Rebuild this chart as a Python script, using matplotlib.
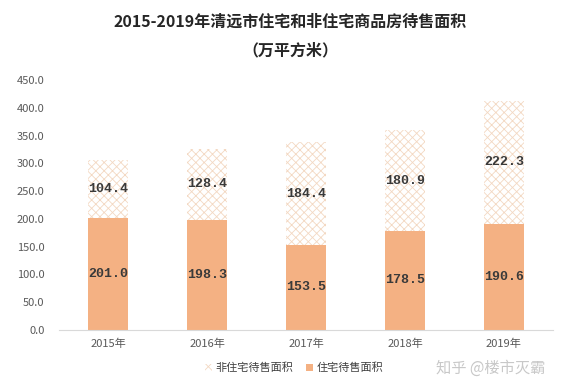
import numpy as np
import matplotlib.pyplot as plt

plt.rcParams['font.family'] = ['Noto Sans CJK SC', 'DejaVu Sans']
plt.rcParams['hatch.linewidth'] = 0.6

# data
years = ['2015年', '2016年', '2017年', '2018年', '2019年']
residential = [201.0, 198.3, 153.5, 178.5, 190.6]
non_residential = [104.4, 128.4, 184.4, 180.9, 222.3]
yticks = [0, 50, 100, 150, 200, 250, 300, 350, 400, 450]

fig = plt.figure(figsize=(5.77, 3.9), dpi=100)
ax = fig.add_axes([0.1014, 0.1538, 0.8578, 0.6410])

x = np.arange(len(years))
w = 0.4
orange = '#F4B183'
hatch_col = '#F3D8C2'

ax.bar(x, residential, w, color=orange, edgecolor='none', label='住宅待售面积')
plt.rcParams['hatch.color'] = hatch_col
ax.bar(x, non_residential, w, bottom=residential, color='white',
       edgecolor=hatch_col, linewidth=0, hatch='xxxx', label='非住宅待售面积')

for i in range(len(years)):
    ax.text(x[i], residential[i] / 2, '%.1f' % residential[i], ha='center', va='center',
            fontsize=9.5, fontweight='bold', family='Liberation Mono', color='#3a3a3a')
    ax.text(x[i], residential[i] + non_residential[i] / 2, '%.1f' % non_residential[i],
            ha='center', va='center', fontsize=9.5, fontweight='bold',
            family='Liberation Mono', color='#3a3a3a')

ax.set_xlim(-0.5, 4.5)
ax.set_ylim(0, 450)
ax.set_yticks(yticks)
ax.set_yticklabels(['%.1f' % v for v in yticks])
ax.set_xticks(x)
ax.set_xticklabels(years)
ax.tick_params(axis='y', length=0, labelsize=8, labelcolor='#595959', pad=10)
ax.tick_params(axis='x', length=0, labelsize=8, labelcolor='#595959', pad=6)
for s in ['top', 'right', 'left']:
    ax.spines[s].set_visible(False)
ax.spines['bottom'].set_color('#d9d9d9')

h, l = ax.get_legend_handles_labels()
fig.legend(h[::-1], l[::-1], loc='center', bbox_to_anchor=(0.51, 0.056), ncol=2,
           frameon=False, fontsize=8, labelcolor='#404040', handlelength=0.6,
           handleheight=0.6, handletextpad=0.3, columnspacing=1.2)

fig.text(0.503, 0.944, '2015-2019年清远市住宅和非住宅商品房待售面积', ha='center', va='center',
         fontsize=11.5, fontweight='bold', color='#262626')
fig.text(0.503, 0.872, '（万平方米）', ha='center', va='center',
         fontsize=11.5, fontweight='bold', color='#262626')
fig.text(0.755, 0.056, '知乎 @楼市灭霸', ha='left', va='center', fontsize=11,
         color='#c8c8c8')

fig.savefig('out.png', dpi=100)
